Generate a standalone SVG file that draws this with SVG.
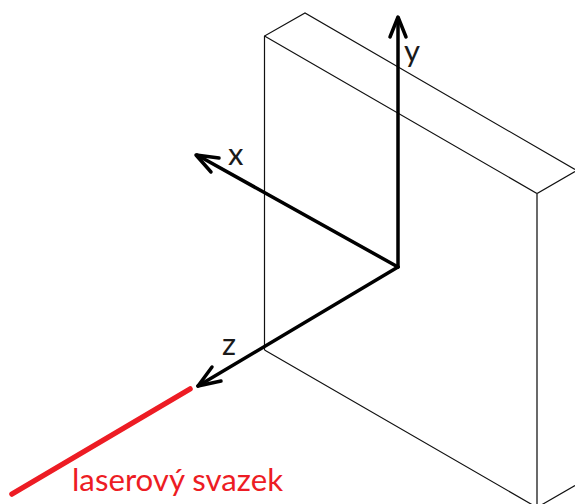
<svg xmlns="http://www.w3.org/2000/svg" width="575" height="504" viewBox="0 0 575 504">
<style>
.e{fill:none;stroke:#111;stroke-width:1.2}
.a{fill:none;stroke:#000;stroke-width:3.5;stroke-linecap:round;stroke-linejoin:round}
.t{font-family:"Lato","Open Sans",sans-serif;fill:#1a1a1a;font-size:31px}
</style>
<rect width="575" height="504" fill="#fff"/>
<g id="block">
<path class="e" d="M264.5 350V36L305 13L575 169.5"/>
<path class="e" d="M264.5 36L537 193.5L575 171.5"/>
<path class="e" d="M537 193.5V504" style="stroke:#444;stroke-width:1.6"/>
<path class="e" d="M264.5 350L537 507.5L575 485.5"/>
</g>
<g id="connectors">
<path class="a" d="M398 267V18"/>
<path class="a" d="M390 37L398 17L406 37"/>
<path class="a" d="M398 267L197 155"/>
<path class="a" d="M219 158L196 155L211 172"/>
<path class="a" d="M398 267L198 386"/>
<path class="a" d="M212 367L198 386L221 381"/>
<path d="M190 389L12 494" fill="none" stroke="#ed1c24" stroke-width="5.5" stroke-linecap="round"/>
</g>
<g id="label-y"><text class="t" x="404" y="62">y</text></g>
<g id="label-x"><text class="t" x="228" y="165">x</text></g>
<g id="label-z"><text class="t" x="222" y="355">z</text></g>
<g id="label-laser"><text x="72" y="491" font-size="31" textLength="211" lengthAdjust="spacingAndGlyphs" font-family="Lato,Open Sans,sans-serif" fill="#ed1c24">laserový svazek</text></g>
</svg>
